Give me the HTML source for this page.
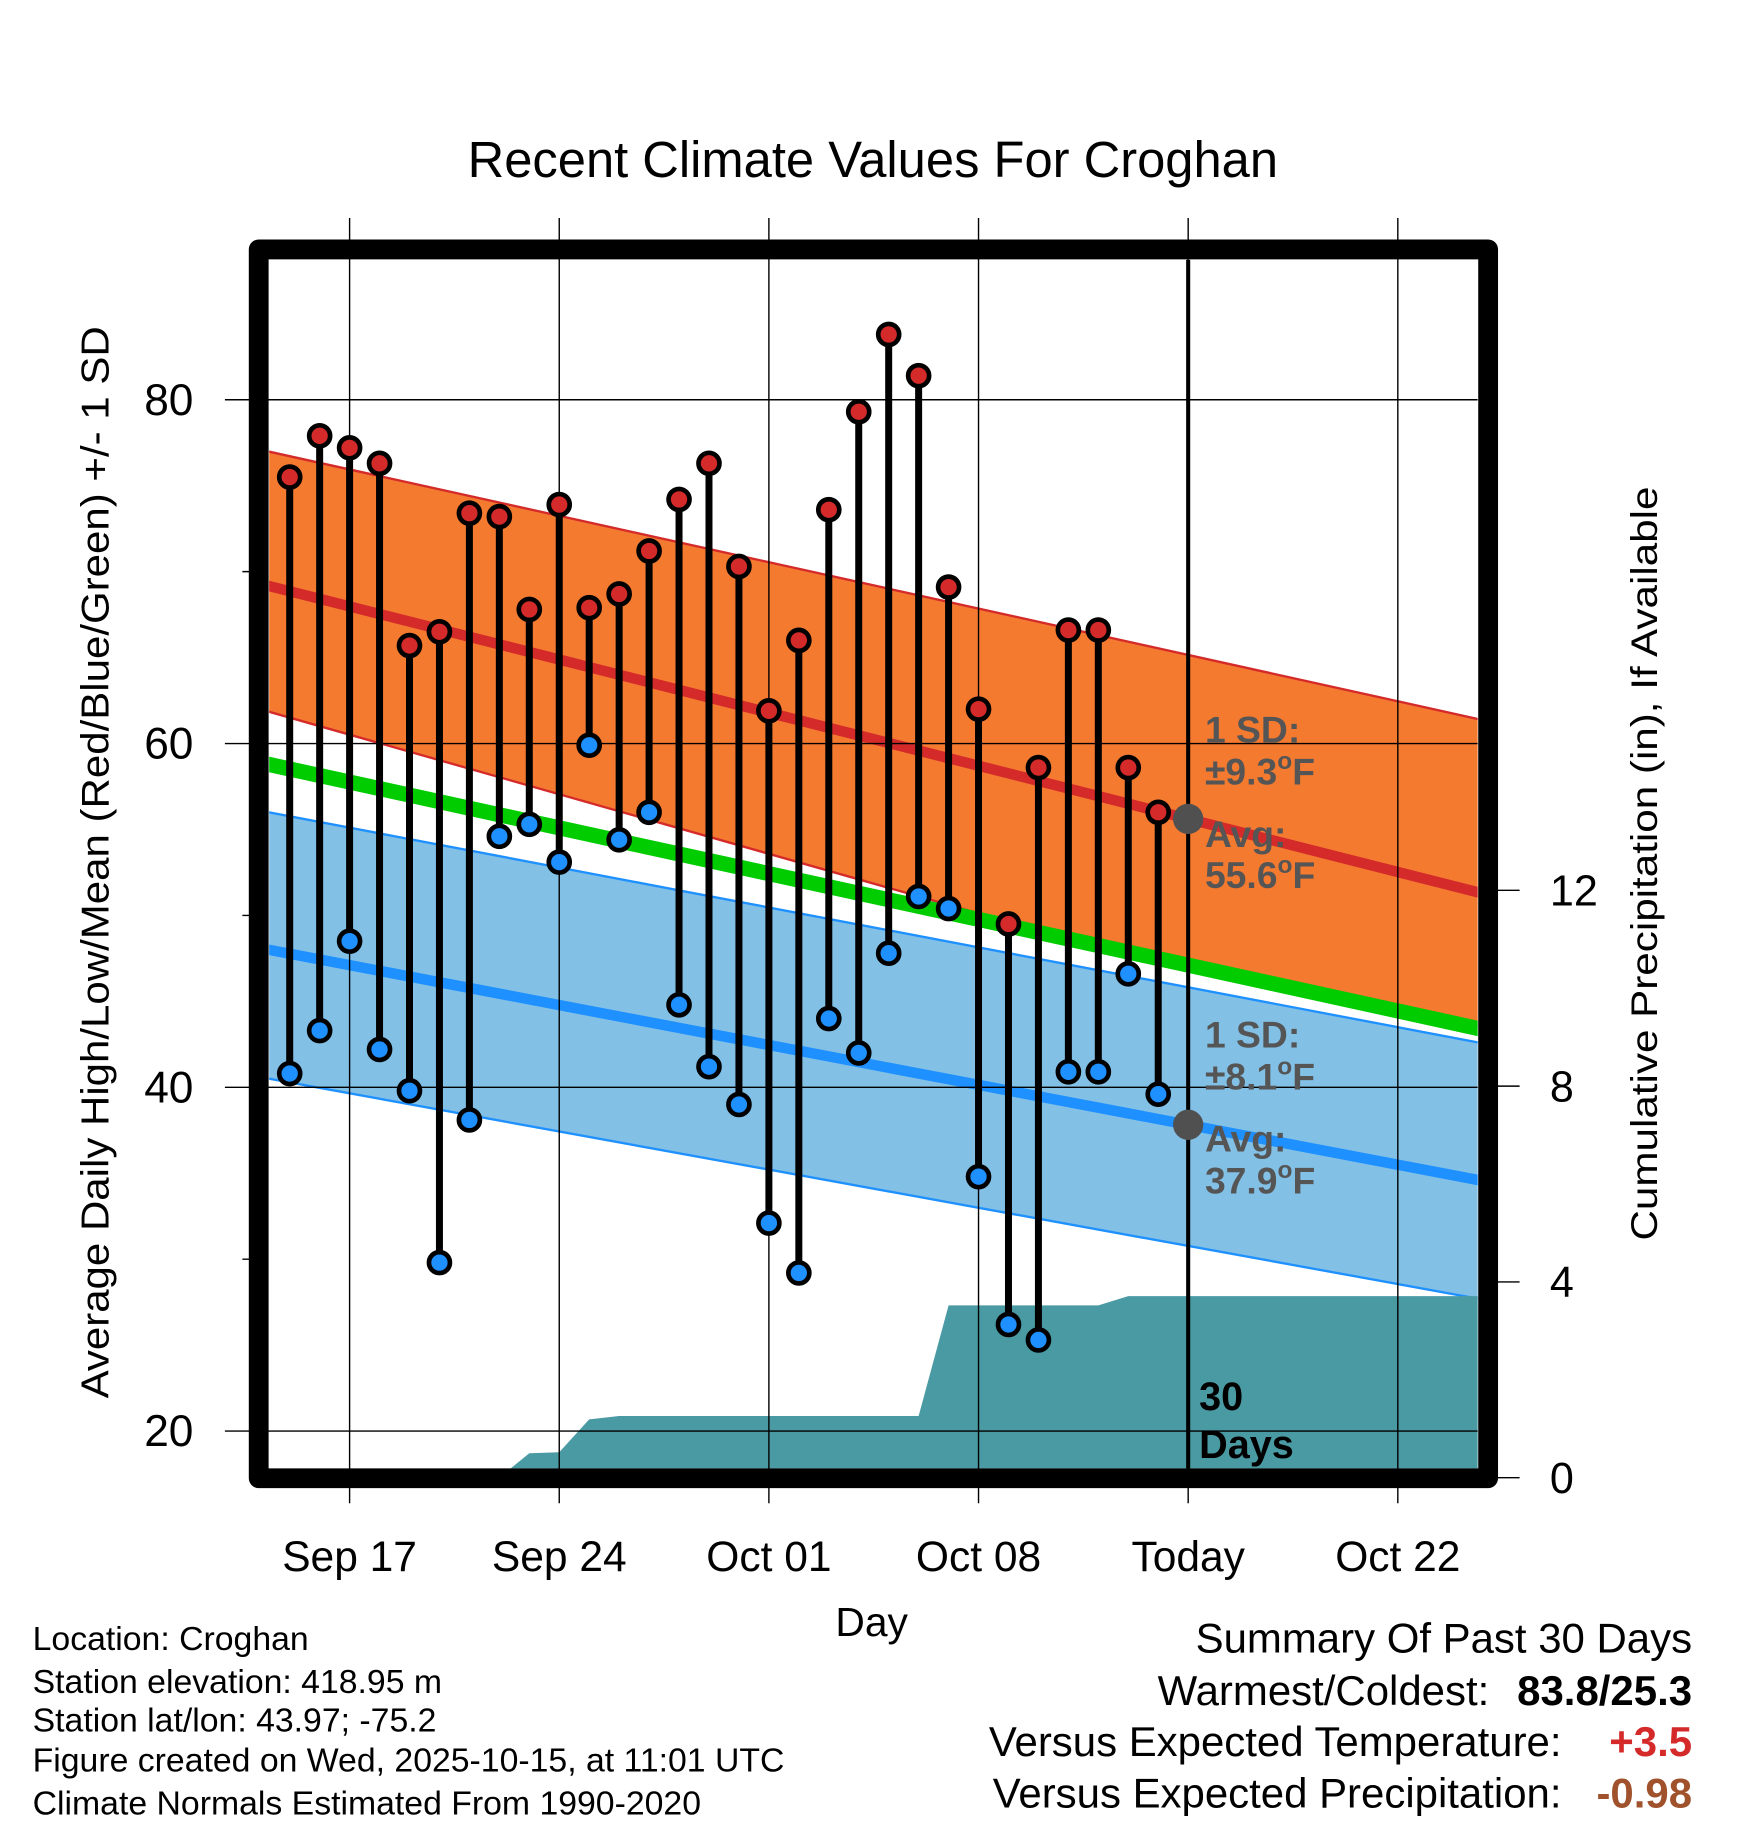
<!DOCTYPE html>
<html><head><meta charset="utf-8"><style>
html,body{margin:0;padding:0;background:#fff}
svg{display:block;font-family:"Liberation Sans",Arial,sans-serif}
</style></head><body>
<svg id="chart" width="1748" height="1828" viewBox="0 0 1500 1568.6" xmlns="http://www.w3.org/2000/svg">
<defs><clipPath id="plotclip"><rect x="231" y="223" width="1037" height="1037"/></clipPath></defs>
<g id="layer-bands" clip-path="url(#plotclip)"></g>
<g id="layer-grid"></g>
<g id="layer-marks"></g>
<rect x="222" y="214" width="1055" height="1054.5" fill="none" stroke="#000" stroke-width="17" stroke-linejoin="round"/>
<g id="layer-text"></g>
<text x="749" y="152" font-size="43.5" text-anchor="middle">Recent Climate Values For Croghan</text>
<text transform="translate(93,740) rotate(-90)" font-size="33" text-anchor="middle" textLength="920" lengthAdjust="spacingAndGlyphs">Average Daily High/Low/Mean (Red/Blue/Green) +/- 1 SD</text>
<text transform="translate(1422,741) rotate(-90)" font-size="32" text-anchor="middle" textLength="647" lengthAdjust="spacingAndGlyphs">Cumulative Precipitation (in), If Available</text>
<text x="748" y="1404" font-size="35" text-anchor="middle">Day</text>
<g font-size="29">
<text x="28" y="1416">Location: Croghan</text>
<text x="28" y="1453">Station elevation: 418.95 m</text>
<text x="28" y="1486">Station lat/lon: 43.97; -75.2</text>
<text x="28" y="1520">Figure created on Wed, 2025-10-15, at 11:01 UTC</text>
<text x="28" y="1557">Climate Normals Estimated From 1990-2020</text>
</g>
<g font-size="36">
<text x="1452" y="1418" text-anchor="end">Summary Of Past 30 Days</text>
<text x="1278" y="1463" text-anchor="end">Warmest/Coldest:</text>
<text x="1452" y="1463" text-anchor="end" font-weight="bold">83.8/25.3</text>
<text x="1340" y="1507" text-anchor="end">Versus Expected Temperature:</text>
<text x="1452" y="1507" text-anchor="end" font-weight="bold" fill="#d42a2a">+3.5</text>
<text x="1340" y="1551" text-anchor="end">Versus Expected Precipitation:</text>
<text x="1452" y="1551" text-anchor="end" font-weight="bold" fill="#a0522d">-0.98</text>
</g>
</svg>
<script>
// data: days relative to Sep 17; 30 obs Sep 15 .. Oct 14
const highs=[75.5,77.9,77.2,76.3,65.7,66.5,73.4,73.2,67.8,73.9,67.9,68.7,71.2,74.2,76.3,70.3,61.9,66.0,73.6,79.3,83.8,81.4,69.1,62.0,49.5,58.6,66.6,66.6,58.6,56.0];
const lows=[40.8,43.3,48.5,42.2,39.8,29.8,38.1,54.6,55.3,53.1,59.9,54.4,56.0,44.8,41.2,39.0,32.1,29.2,44.0,42.0,47.8,51.1,50.4,34.8,26.2,25.3,40.9,40.9,46.6,39.6];
const precip=[0,0,0,0,0,0,0,0,0.5,0.52,1.19,1.26,1.26,1.26,1.26,1.26,1.26,1.26,1.26,1.26,1.26,1.26,3.52,3.52,3.52,3.52,3.52,3.52,3.71,3.71];
const normDays=[-3,38];
const normHighUpper=[77.1,61.3];
const normHighMean=[69.3,51.2];
const normHighLower=[62.0,41.7];
const normMean=[58.9,43.3];
const normLowUpper=[56.1,42.5];
const normLowMean=[48.1,34.5];
const normLowLower=[40.6,27.6];
const xTickDays=[0,7,14,21,28,35];
const xTickLabels=["Sep 17","Sep 24","Oct 01","Oct 08","Today","Oct 22"];
const yTicks=[20,40,60,80];
const yMinor=[30,50,70];
const pTicks=[0,4,8,12];
const firstDay=-2, todayDay=28;

const NS="http://www.w3.org/2000/svg";
const X=d=>300+25.7*d;
const Y=v=>1228-(v-20)*14.75;
const YP=p=>1268-42*p;
function mk(tag,attrs,parent){const e=document.createElementNS(NS,tag);for(const k in attrs)e.setAttribute(k,attrs[k]);parent.appendChild(e);return e;}
const bands=document.getElementById('layer-bands');
const grid=document.getElementById('layer-grid');
const marks=document.getElementById('layer-marks');
const txt=document.getElementById('layer-text');
function interp(arr,d){return arr[0]+(arr[1]-arr[0])*(d-normDays[0])/(normDays[1]-normDays[0]);}
function lineD(arr){return normDays.map((d,i)=>(i?'L':'M')+X(d)+','+Y(arr[i])).join(' ');}
function bandD(up,lo){return lineD(up)+' L'+X(normDays[1])+','+Y(lo[1])+' L'+X(normDays[0])+','+Y(lo[0])+' Z';}
// orange band lower edge = max(high-SD, mean)
const d0=normDays[0], d1=normDays[1];
const a0=normHighLower[0]-normMean[0], a1=normHighLower[1]-normMean[1];
const dc=d0+(d1-d0)*a0/(a0-a1);
const lowerPts=[[d1,Math.max(normHighLower[1],normMean[1])],[dc,interp(normMean,dc)],[d0,Math.max(normHighLower[0],normMean[0])]];
let od=lineD(normHighUpper)+lowerPts.map(p=>' L'+X(p[0])+','+Y(p[1])).join('')+' Z';
let e;
e=mk('path',{d:od,fill:'#f47a30'},bands);


e=mk('path',{d:lineD(normHighUpper),fill:'none',stroke:'#d42a2a','stroke-width':2},bands);


e=mk('path',{d:'M'+X(d0)+','+Y(normHighLower[0])+' L'+X(dc)+','+Y(interp(normHighLower,dc)),fill:'none',stroke:'#d42a2a','stroke-width':2},bands);


e=mk('path',{d:bandD(normLowUpper,normLowLower),fill:'#82c0e6',stroke:'#1e90ff','stroke-width':2},bands);


e=mk('path',{d:lineD(normMean),fill:'none',stroke:'#00cc00','stroke-width':13},bands);


e=mk('path',{d:lineD(normHighMean),fill:'none',stroke:'#d42a2a','stroke-width':9},bands);


e=mk('path',{d:lineD(normLowMean),fill:'none',stroke:'#1e90ff','stroke-width':9},bands);


// precip area
let pd='M'+X(firstDay)+','+YP(0);
precip.forEach((p,i)=>{pd+=' L'+X(firstDay+i)+','+YP(p);});
pd+=' L'+X(40)+','+YP(precip[precip.length-1])+' L'+X(40)+','+YP(0)+' Z';
e=mk('path',{d:pd,fill:'#4a9aa3'},bands);


// grid
xTickDays.forEach((d,i)=>{
  e=mk('line',{x1:X(d),x2:X(d),y1:187,y2:1290,stroke:'#000','stroke-width':1.2},grid);
  
  
  e=mk('text',{x:X(d),y:1348,'font-size':36.5,'text-anchor':'middle'},txt);
  e.textContent=xTickLabels[i];
  
  
});
yTicks.forEach(v=>{
  e=mk('line',{x1:193,x2:1268,y1:Y(v),y2:Y(v),stroke:'#000','stroke-width':1.2},grid);
  
  
  e=mk('text',{x:166,y:Y(v)+13,'font-size':38,'text-anchor':'end'},txt);
  e.textContent=v;
  
  
});
yMinor.forEach(v=>{
  e=mk('line',{x1:208,x2:222,y1:Y(v),y2:Y(v),stroke:'#000','stroke-width':1.2},grid);
  
  
});
pTicks.forEach(p=>{
  e=mk('line',{x1:1277,x2:1304,y1:YP(p),y2:YP(p),stroke:'#000','stroke-width':1.2},grid);
  
  
  e=mk('text',{x:1330,y:YP(p)+13,'font-size':37},txt);
  e.textContent=p;
  
  
});
// today line
e=mk('line',{x1:X(todayDay),x2:X(todayDay),y1:223,y2:1260,stroke:'#000','stroke-width':3.5},marks);


// stems & markers
highs.forEach((h,i)=>{
  const x=X(firstDay+i);
  e=mk('line',{x1:x,x2:x,y1:Y(h),y2:Y(lows[i]),stroke:'#000','stroke-width':6},marks);
  
  
});
highs.forEach((h,i)=>{
  const x=X(firstDay+i);
  e=mk('circle',{cx:x,cy:Y(h),r:9,fill:'#d42a2a',stroke:'#000','stroke-width':4},marks);
  
  
  e=mk('circle',{cx:x,cy:Y(lows[i]),r:9,fill:'#1e90ff',stroke:'#000','stroke-width':4},marks);
  
  
});
[normHighMean,normLowMean].forEach(a=>{
  e=mk('circle',{cx:X(todayDay),cy:Y(interp(a,todayDay)),r:13,fill:'#505050'},marks);
  
  
});
function label(x,y,parts,name){
  const t=mk('text',{x:x,y:y,'font-size':32,'font-weight':'bold',fill:'#555'},txt);
  
  
  t.innerHTML=parts;
}
const deg='<tspan font-size="21" dy="-13">o</tspan><tspan dy="13">F</tspan>';
label(1034,637,'1 SD:','high-sd-label');
label(1034,673,'±9.3'+deg,'high-sd-value');
label(1034,727,'Avg:','high-avg-label');
label(1034,762,'55.6'+deg,'high-avg-value');
label(1034,899,'1 SD:','low-sd-label');
label(1034,935,'±8.1'+deg,'low-sd-value');
label(1034,988,'Avg:','low-avg-label');
label(1034,1024,'37.9'+deg,'low-avg-value');
e=mk('text',{x:1029,y:1210,'font-size':34,'font-weight':'bold'},txt);
e.textContent='30';


e=mk('text',{x:1029,y:1251,'font-size':34,'font-weight':'bold'},txt);
e.textContent='Days';


</script>
</body></html>
